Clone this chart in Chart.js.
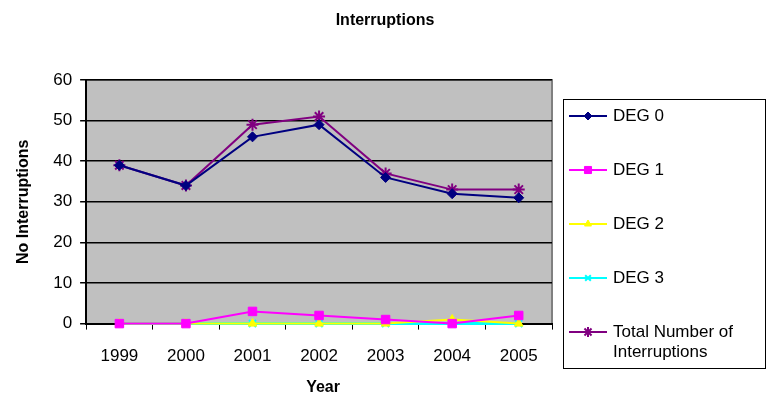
<!DOCTYPE html>
<html>
<head>
<meta charset="utf-8">
<script src="https://cdn.jsdelivr.net/npm/chart.js@4"></script>
<style>
html,body{margin:0;padding:0;background:#fff}
#wrap{width:773px;height:409px;position:relative}
</style>
</head>
<body>
<div id="wrap"><canvas id="chart" width="773" height="409"></canvas></div>
<script>
const years=["1999","2000","2001","2002","2003","2004","2005"]
const deg0=[39,34,46,49,36,32,31]
const deg1=[0,0,3,2,1,0,2]
const deg2=[0,0,0,0,0,1,0]
const deg3=[0,0,0,0,0,0,0]
const total=[39,34,49,51,37,33,33]
const yTicks=[0,10,20,30,40,50,60]

const seriesNames=["DEG 0","DEG 1","DEG 2","DEG 3",["Total Number of","Interruptions"]]
const seriesColors=["#000080","#ff00ff","#ffff00","#00ffff","#800080"]
const seriesPoints=["rectRot","rect","triangle","crossRot","star"]
const seriesSizes=[5,6,5,5,6]
const seriesData=[deg0,deg1,deg2,deg3,total]

const font="Arial, 'Liberation Sans', sans-serif"

// grey plot area with frame, the title centred on the page and the x title
const plotBg={
id:"plotBg",
beforeDraw(chart){
const a=chart.chartArea
const c=chart.ctx
c.save()
c.fillStyle="#c0c0c0"
c.fillRect(a.left,a.top,a.right-a.left,a.bottom-a.top)
c.strokeStyle="#808080"
c.lineWidth=2
c.beginPath()
c.moveTo(a.left,a.top)
c.lineTo(a.right,a.top)
c.lineTo(a.right,a.bottom)
c.stroke()
c.fillStyle="#000"
c.font="bold 16px "+font
c.textAlign="center"
c.textBaseline="middle"
c.fillText("Interruptions",385,21)
c.fillText("Year",(a.left+a.right)/2+4,388)
c.restore()
}
}

// boxed legend on the right
const boxLegend={
id:"boxLegend",
afterDraw(chart){
const c=chart.ctx
const x0=563,y0=99,w=202,h=269
c.save()
c.fillStyle="#fff"
c.fillRect(x0,y0,w,h)
c.strokeStyle="#000"
c.lineWidth=1
c.strokeRect(x0+0.5,y0+0.5,w,h)
c.font="17px "+font
c.textBaseline="middle"
chart.data.datasets.forEach((ds,i)=>{
const y=y0+17+i*54
c.strokeStyle=ds.borderColor
c.fillStyle=ds.backgroundColor
c.lineWidth=2
c.beginPath()
c.moveTo(x0+6,y)
c.lineTo(x0+44,y)
c.stroke()
c.lineWidth=ds.pointBorderWidth
Chart.helpers.drawPoint(c,{pointStyle:ds.pointStyle,radius:ds.pointRadius-1,borderWidth:ds.pointBorderWidth,rotation:0},x0+25,y)
c.fillStyle="#000"
const lab=Array.isArray(ds.label)?ds.label:[ds.label]
lab.forEach((t,k)=>c.fillText(t,x0+50,y+k*20))
})
c.restore()
}
}

const datasets=seriesData.map((d,i)=>({
label:seriesNames[i],
data:d,
borderColor:seriesColors[i],
backgroundColor:seriesColors[i],
borderWidth:i==3?3:2,
pointStyle:seriesPoints[i],
pointRadius:seriesSizes[i],
pointBorderWidth:i>=3?2:1,
tension:0,
clip:false
}))

new Chart(document.getElementById("chart"),{
type:"line",
data:{labels:years,datasets:datasets},
options:{
responsive:false,
animation:false,
layout:{padding:{left:10,right:221,top:80,bottom:25}},
plugins:{
legend:{display:false},
tooltip:{enabled:false},
title:{display:false}
},
scales:{
x:{
offset:true,
grid:{display:true,drawOnChartArea:false,offset:true,color:"#000",tickLength:6,lineWidth:1},
border:{color:"#000",width:2},
ticks:{color:"#000",font:{family:font,size:17},padding:17},
title:{display:false}
},
y:{
min:0,max:60,
afterBuildTicks(ax){ax.ticks=yTicks.map(v=>({value:v}))},
grid:{color:"#000",lineWidth:1.5,tickLength:6,drawTicks:true},
border:{color:"#000",width:2},
ticks:{color:"#000",font:{family:font,size:17},padding:8},
title:{display:true,text:"No Interruptions",color:"#000",font:{family:font,size:16,weight:"bold"},padding:{top:4,bottom:12}}
}
}
},
plugins:[plotBg,boxLegend]
})
</script>
</body>
</html>
